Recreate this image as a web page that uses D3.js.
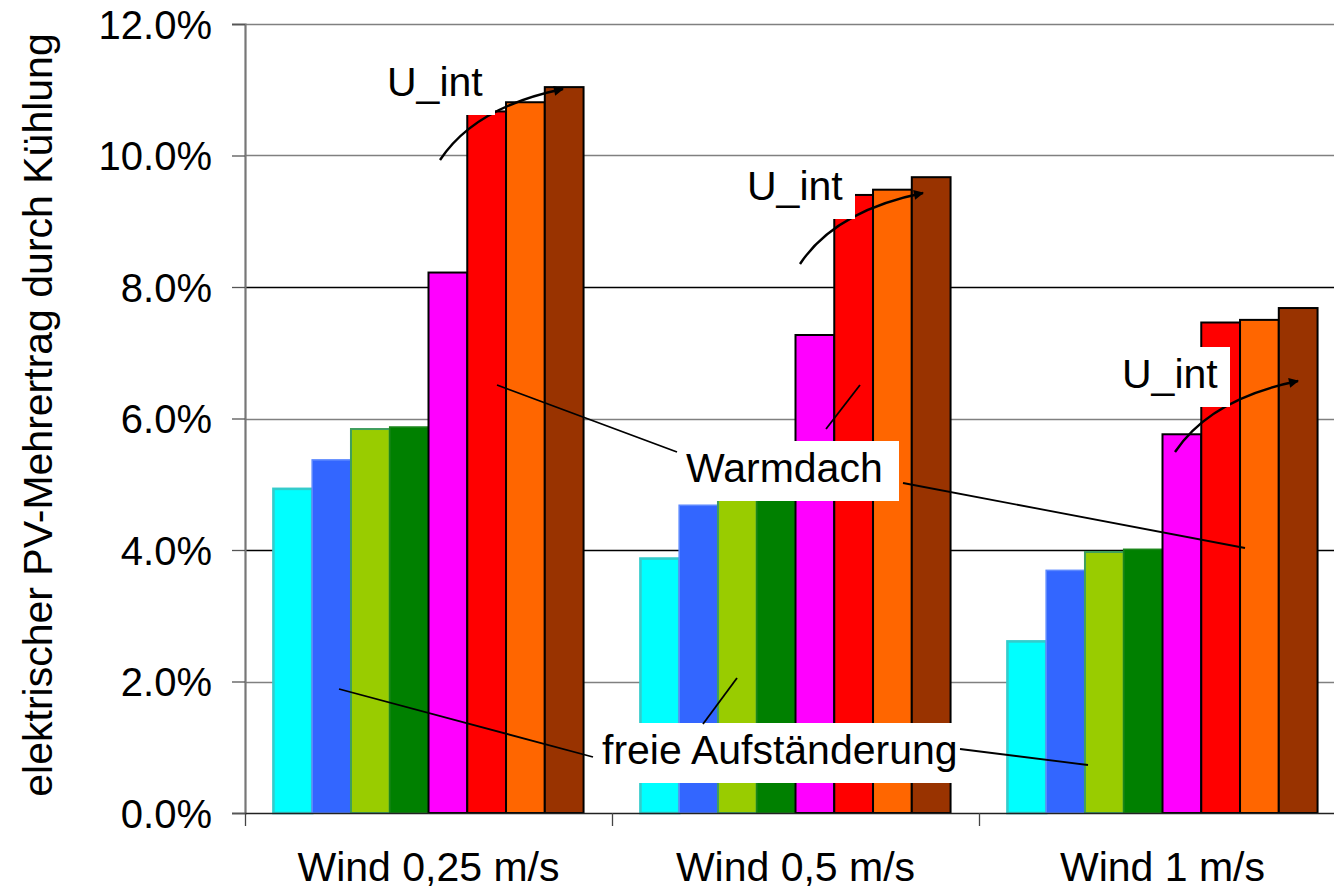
<!DOCTYPE html>
<html>
<head>
<meta charset="utf-8">
<script src="https://cdn.jsdelivr.net/npm/d3@7"></script>
<style>
  html, body { margin: 0; padding: 0; background: #fff; }
  svg { display: block; }
  text { font-family: "Liberation Sans", Arial, sans-serif; fill: #000; }
</style>
</head>
<body>
<svg id="chart" width="1334" height="892"></svg>
<script>
// Wind-speed groups on the x axis
const categories = ["Wind 0,25 m/s", "Wind 0,5 m/s", "Wind 1 m/s"];

// Eight variants per group: four free-standing mounts, four warm-roof cases
const variants = ["frei_1", "frei_2", "frei_3", "frei_4", "warm_1", "warm_2", "warm_3", "warm_4"];

// Additional electrical PV yield through cooling, in percent
const wind025 = [4.93, 5.37, 5.84, 5.87, 8.22, 10.67, 10.81, 11.04];
const wind05  = [3.87, 4.68, 5.05, 5.08, 7.27, 9.40, 9.48, 9.67];
const wind1   = [2.61, 3.69, 3.97, 4.01, 5.76, 7.46, 7.50, 7.68];

const yTicks = [0, 2, 4, 6, 8, 10, 12];

const yTitle = "elektrischer PV-Mehrertrag durch Kühlung";
const labelFree = "freie Aufständerung";
const labelWarm = "Warmdach";
const labelU = "U_int";

// Colours per variant
const fills   = ["#00ffff", "#3366ff", "#99cc00", "#008000", "#ff00ff", "#ff0000", "#ff6600", "#993300"];
const strokes = ["#33cccc", "#5c88ff", "#3f9e5e", "#1b861b", "#000000", "#000000", "#000000", "#000000"];
const strokeW = [2.6, 1.6, 2, 1.6, 2, 2, 2, 2];

const groups = [wind025, wind05, wind1];
const rows = categories.map((c, i) => ({ cat: c, vals: groups[i] }));

const svg = d3.select("#chart");
const plot = { left: 245, right: 1346, top: 24, bottom: 813 };

const y = d3.scaleLinear().domain([0, 12]).range([plot.bottom, plot.top]);
const x0 = d3.scaleBand().domain(categories).range([plot.left, plot.right])
  .paddingInner(0.155).paddingOuter(0.0775);
const x1 = d3.scaleBand().domain(variants).range([0, x0.bandwidth()]);

// Horizontal gridlines
svg.append("g").selectAll("line")
  .data(yTicks.filter(t => t > 0))
  .join("line")
  .attr("x1", plot.left).attr("x2", plot.right)
  .attr("y1", d => Math.round(y(d)) + 0.5).attr("y2", d => Math.round(y(d)) + 0.5)
  .attr("stroke", d => (d % 4 === 0 && d !== 12) ? "#000" : "#808080")
  .attr("stroke-width", d => (d % 4 === 0 && d !== 12) ? 1.3 : 1.6);

// Bars
const gBars = svg.append("g");
rows.forEach(r => {
  gBars.append("g")
    .attr("transform", `translate(${x0(r.cat)},0)`)
    .selectAll("rect")
    .data(r.vals.map((v, i) => ({ key: variants[i], v, i })))
    .join("rect")
    .attr("x", d => x1(d.key))
    .attr("y", d => y(d.v))
    .attr("width", x1.bandwidth())
    .attr("height", d => y(0) - y(d.v))
    .attr("fill", d => fills[d.i])
    .attr("stroke", d => strokes[d.i])
    .attr("stroke-width", d => strokeW[d.i]);
});

// Y axis
const yAxis = d3.axisLeft(y).tickValues(yTicks).tickSize(13).tickPadding(20)
  .tickFormat(d => d3.format(".1f")(d) + "%");
const gy = svg.append("g").attr("transform", `translate(${plot.left},0)`).call(yAxis);
gy.select(".domain").attr("stroke", "#777").attr("stroke-width", 2.2);
gy.selectAll(".tick line").attr("stroke", "#555").attr("stroke-width", 1.3);
gy.selectAll(".tick text").attr("font-size", 40).attr("dy", "0.36em")
  .attr("font-family", "Liberation Sans, Arial, sans-serif").attr("fill", "#000");

// X axis with boundary ticks between groups
svg.append("line")
  .attr("x1", plot.left).attr("x2", plot.right)
  .attr("y1", plot.bottom + 0.5).attr("y2", plot.bottom + 0.5)
  .attr("stroke", "#222").attr("stroke-width", 1.5);
const bounds = categories.map(c => x0(c) - x0.step() * x0.paddingOuter());
svg.append("g").selectAll("line")
  .data(bounds)
  .join("line")
  .attr("x1", d => Math.round(d) + 0.5).attr("x2", d => Math.round(d) + 0.5)
  .attr("y1", plot.bottom).attr("y2", plot.bottom + 13)
  .attr("stroke", "#444").attr("stroke-width", 1.3);
svg.append("g").selectAll("text")
  .data(categories)
  .join("text")
  .attr("x", d => x0(d) + x0.bandwidth() / 2)
  .attr("y", 881)
  .attr("text-anchor", "middle")
  .attr("font-size", 41)
  .text(d => d);

// Y axis title
svg.append("text")
  .attr("transform", "translate(52,415) rotate(-90)")
  .attr("text-anchor", "middle")
  .attr("font-size", 41)
  .text(yTitle);

// Annotations
const ann = svg.append("g");
const defs = svg.append("defs");
defs.append("marker")
  .attr("id", "arrow").attr("viewBox", "0 0 10 10")
  .attr("refX", 9).attr("refY", 5)
  .attr("markerWidth", 14).attr("markerHeight", 10)
  .attr("markerUnits", "userSpaceOnUse")
  .attr("orient", "auto")
  .append("path").attr("d", "M0,0 L10,5 L0,10 Z").attr("fill", "#000");

// U_int callouts: text left / baseline for each wind group
const uPos = [[387, 96], [747, 200], [1122, 388]];
uPos.forEach(([tx, ty]) => {
  ann.append("path")
    .attr("d", `M${tx + 53},${ty + 64} Q${tx + 88},${ty + 11} ${tx + 176},${ty - 7}`)
    .attr("fill", "none").attr("stroke", "#000").attr("stroke-width", 2.4)
    .attr("marker-end", "url(#arrow)");
  ann.append("rect")
    .attr("x", tx - 14).attr("y", ty - 41).attr("width", 122).attr("height", 60)
    .attr("fill", "#fff");
  ann.append("text").attr("x", tx).attr("y", ty).attr("font-size", 41).text(labelU);
});

// Warmdach callout
ann.append("rect").attr("x", 672).attr("y", 441).attr("width", 227).attr("height", 60).attr("fill", "#fff");
ann.append("text").attr("x", 686).attr("y", 482).attr("font-size", 41).text(labelWarm);
const warmLines = [[497, 385, 677, 452], [826, 429, 860, 385], [903, 483, 1245, 548]];
ann.append("g").selectAll("line").data(warmLines).join("line")
  .attr("x1", d => d[0]).attr("y1", d => d[1]).attr("x2", d => d[2]).attr("y2", d => d[3])
  .attr("stroke", "#000").attr("stroke-width", 1.8);

// freie Aufständerung callout
ann.append("rect").attr("x", 590).attr("y", 723).attr("width", 372).attr("height", 60).attr("fill", "#fff");
ann.append("text").attr("x", 602).attr("y", 764).attr("font-size", 41).text(labelFree);
const freeLines = [[339, 689, 593, 757], [703, 724, 737, 678], [960, 749, 1088, 765]];
ann.append("g").selectAll("line").data(freeLines).join("line")
  .attr("x1", d => d[0]).attr("y1", d => d[1]).attr("x2", d => d[2]).attr("y2", d => d[3])
  .attr("stroke", "#000").attr("stroke-width", 1.8);
</script>
</body>
</html>
